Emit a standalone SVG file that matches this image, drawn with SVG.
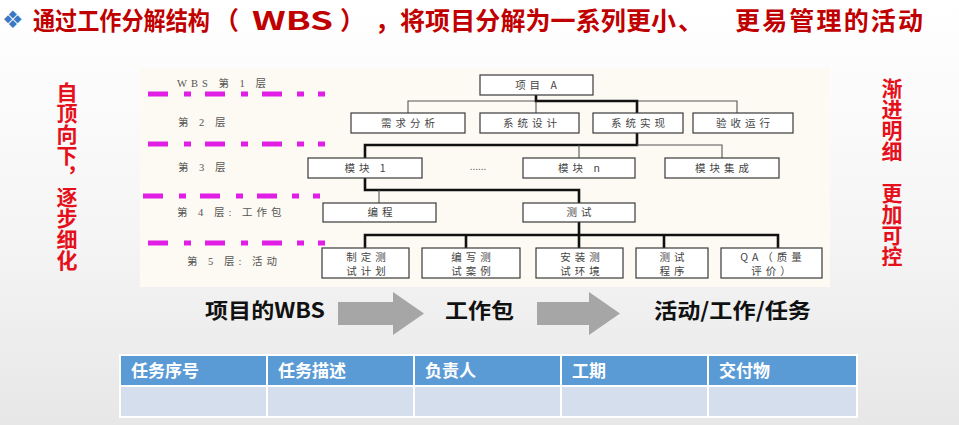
<svg xmlns="http://www.w3.org/2000/svg" width="959" height="425" viewBox="0 0 959 425">
  <defs>
    <linearGradient id="bg" x1="0" y1="0" x2="0" y2="1">
      <stop offset="0" stop-color="#ffffff"/>
      <stop offset="0.55" stop-color="#f5f5f5"/>
      <stop offset="1" stop-color="#e7e7e7"/>
    </linearGradient>
    <!-- level separator: dash-dot run in magenta -->
    <path id="sep" d="M0 0h20M36 0h7M57 0h20M93 0h7M114 0h20M149 0h7M170 0h7"/>
    <style>
      .title{font-family:"Noto Sans CJK SC","Noto Sans",sans-serif;font-weight:bold;font-size:25px;fill:#c00000}
      .bullet{font-family:"DejaVu Sans",sans-serif;font-size:24px;fill:#3a78c6}
      .side{font-family:"Noto Sans CJK SC",sans-serif;font-weight:bold;font-size:21px;fill:#e5101b;writing-mode:vertical-rl}
      .lvl{font-family:"Liberation Serif","Noto Sans CJK SC",serif;font-size:10.5px;fill:#555;letter-spacing:4px}
      .box rect{fill:#fff;stroke:#3a3a3a;stroke-width:1.2}
      .box text{font-family:"Noto Sans CJK SC",sans-serif;font-size:10.5px;fill:#444;text-anchor:middle;letter-spacing:4px}
      .thick{stroke:#111;stroke-width:2.6;fill:none}
      .thin{stroke:#555;stroke-width:1.1;fill:none}
      .sep{stroke:#e01ee6;stroke-width:5;fill:none}
      .flow{font-family:"Noto Sans CJK SC",sans-serif;font-weight:bold;font-size:21px;fill:#111}
      .arrow{fill:#a6a6a6}
      .th{fill:#5b9bd5}
      .td{fill:#d5deec}
      .thtext{font-family:"Noto Sans CJK SC",sans-serif;font-weight:bold;font-size:17px;fill:#fff}
    </style>
  </defs>

  <!-- page -->
  <rect x="0" y="0" width="959" height="425" fill="url(#bg)"/>

  <!-- heading -->
  <g id="heading">
    <text class="bullet" x="2" y="28">❖</text>
    <text class="title" transform="translate(33 30) scale(0.885 1)">通过工作分解结构</text>
    <text class="title" x="214" y="30">（<tspan x="252" textLength="81" lengthAdjust="spacingAndGlyphs">WBS</tspan><tspan x="340">）</tspan><tspan x="375">，</tspan></text>
    <text class="title" x="400" y="30"><tspan textLength="276" lengthAdjust="spacing">将项目分解为一系列更小</tspan><tspan x="678">、</tspan><tspan x="735" textLength="188" lengthAdjust="spacing">更易管理的活动</tspan></text>
  </g>

  <!-- side notes -->
  <g id="note-left">
    <text class="side" x="67" y="82">自顶向下，逐步细化</text>
  </g>
  <g id="note-right">
    <text class="side" x="892" y="78">渐进明细　更加可控</text>
  </g>

  <!-- WBS chart panel -->
  <rect x="140" y="68" width="690" height="219" fill="#fcfaf3"/>

  <!-- level labels and separators -->
  <g id="levels">
    <text class="lvl" x="177" y="87">WBS 第 1 层</text>
    <text class="lvl" x="178" y="126">第 2 层</text>
    <text class="lvl" x="178" y="171">第 3 层</text>
    <text class="lvl" x="177" y="216">第 4 层:  工作包</text>
    <text class="lvl" x="187" y="265">第 5 层:  活动</text>
    <use href="#sep" class="sep" x="148" y="94"/>
    <use href="#sep" class="sep" x="148" y="144"/>
    <use href="#sep" class="sep" x="143" y="196"/>
    <use href="#sep" class="sep" x="148" y="243"/>
  </g>

  <!-- connectors -->
  <g id="connectors">
    <path class="thin" d="M408 113V101H536V113M637 101H737V113"/>
    <path class="thick" d="M536 95V101H637V113"/>
    <path class="thick" d="M637 133V145H365V158"/>
    <path class="thin" d="M637 145H722V158M579 145V158"/>
    <path class="thick" d="M365 178V190H579V203"/>
    <path class="thin" d="M379 190V203"/>
    <path class="thick" d="M579 222V235M365 248V235H778V248M466 235V248M579 235V248M664 235V248"/>
  </g>

  <!-- level 1 -->
  <g id="n-project" class="box"><rect x="480" y="75" width="113" height="20"/><text x="538" y="89">项目 A</text></g>

  <!-- level 2 -->
  <g id="n-req" class="box"><rect x="351" y="113" width="114" height="20"/><text x="410" y="127">需求分析</text></g>
  <g id="n-design" class="box"><rect x="480" y="113" width="99" height="20"/><text x="532" y="127">系统设计</text></g>
  <g id="n-impl" class="box"><rect x="593" y="113" width="90" height="20"/><text x="640" y="127">系统实现</text></g>
  <g id="n-accept" class="box"><rect x="693" y="113" width="100" height="20"/><text x="745" y="127">验收运行</text></g>

  <!-- level 3 -->
  <g id="n-mod1" class="box"><rect x="308" y="158" width="114" height="20"/><text x="367" y="172">模块 1</text></g>
  <text x="478" y="170" font-family="Liberation Sans,sans-serif" font-size="10" fill="#555" text-anchor="middle">......</text>
  <g id="n-modn" class="box"><rect x="523" y="158" width="112" height="20"/><text x="581" y="172">模块 n</text></g>
  <g id="n-integ" class="box"><rect x="665" y="158" width="114" height="20"/><text x="724" y="172">模块集成</text></g>

  <!-- level 4 -->
  <g id="n-code" class="box"><rect x="323" y="203" width="113" height="19"/><text x="382" y="216">编程</text></g>
  <g id="n-test" class="box"><rect x="523" y="203" width="112" height="19"/><text x="581" y="216">测试</text></g>

  <!-- level 5 -->
  <g id="n-plan" class="box"><rect x="322" y="248" width="87" height="30"/><text x="368" y="261">制定测</text><text x="368" y="275">试计划</text></g>
  <g id="n-cases" class="box"><rect x="422" y="248" width="98" height="30"/><text x="473" y="261">编写测</text><text x="473" y="275">试案例</text></g>
  <g id="n-env" class="box"><rect x="536" y="248" width="87" height="30"/><text x="582" y="261">安装测</text><text x="582" y="275">试环境</text></g>
  <g id="n-proc" class="box"><rect x="636" y="248" width="72" height="30"/><text x="674" y="261">测试</text><text x="674" y="275">程序</text></g>
  <g id="n-qa" class="box"><rect x="721" y="248" width="101" height="30"/><text x="773" y="261">QA（质量</text><text x="773" y="275">评价）</text></g>

  <!-- flow: WBS -> work package -> activity -->
  <g id="flow">
    <text class="flow" x="205" y="318" textLength="120" lengthAdjust="spacingAndGlyphs">项目的WBS</text>
    <polygon class="arrow" points="338,302 393,302 393,292 424,313.5 393,335 393,325 338,325"/>
    <text class="flow" x="445" y="318" textLength="69" lengthAdjust="spacingAndGlyphs">工作包</text>
    <polygon class="arrow" points="537,302 589,302 589,292 620,313.5 589,335 589,325 537,325"/>
    <text class="flow" x="654" y="318" textLength="157" lengthAdjust="spacingAndGlyphs">活动/工作/任务</text>
  </g>

  <!-- task table -->
  <g id="task-table">
    <rect x="119" y="354" width="739" height="64" fill="#fff"/>
    <rect class="th" x="121" y="356" width="145" height="29"/>
    <rect class="th" x="268" y="356" width="145" height="29"/>
    <rect class="th" x="415" y="356" width="145" height="29"/>
    <rect class="th" x="562" y="356" width="145" height="29"/>
    <rect class="th" x="709" y="356" width="147" height="29"/>
    <rect class="td" x="121" y="387" width="145" height="29"/>
    <rect class="td" x="268" y="387" width="145" height="29"/>
    <rect class="td" x="415" y="387" width="145" height="29"/>
    <rect class="td" x="562" y="387" width="145" height="29"/>
    <rect class="td" x="709" y="387" width="147" height="29"/>
    <text class="thtext" x="131" y="377">任务序号</text>
    <text class="thtext" x="278" y="377">任务描述</text>
    <text class="thtext" x="425" y="377">负责人</text>
    <text class="thtext" x="572" y="377">工期</text>
    <text class="thtext" x="719" y="377">交付物</text>
  </g>
</svg>
